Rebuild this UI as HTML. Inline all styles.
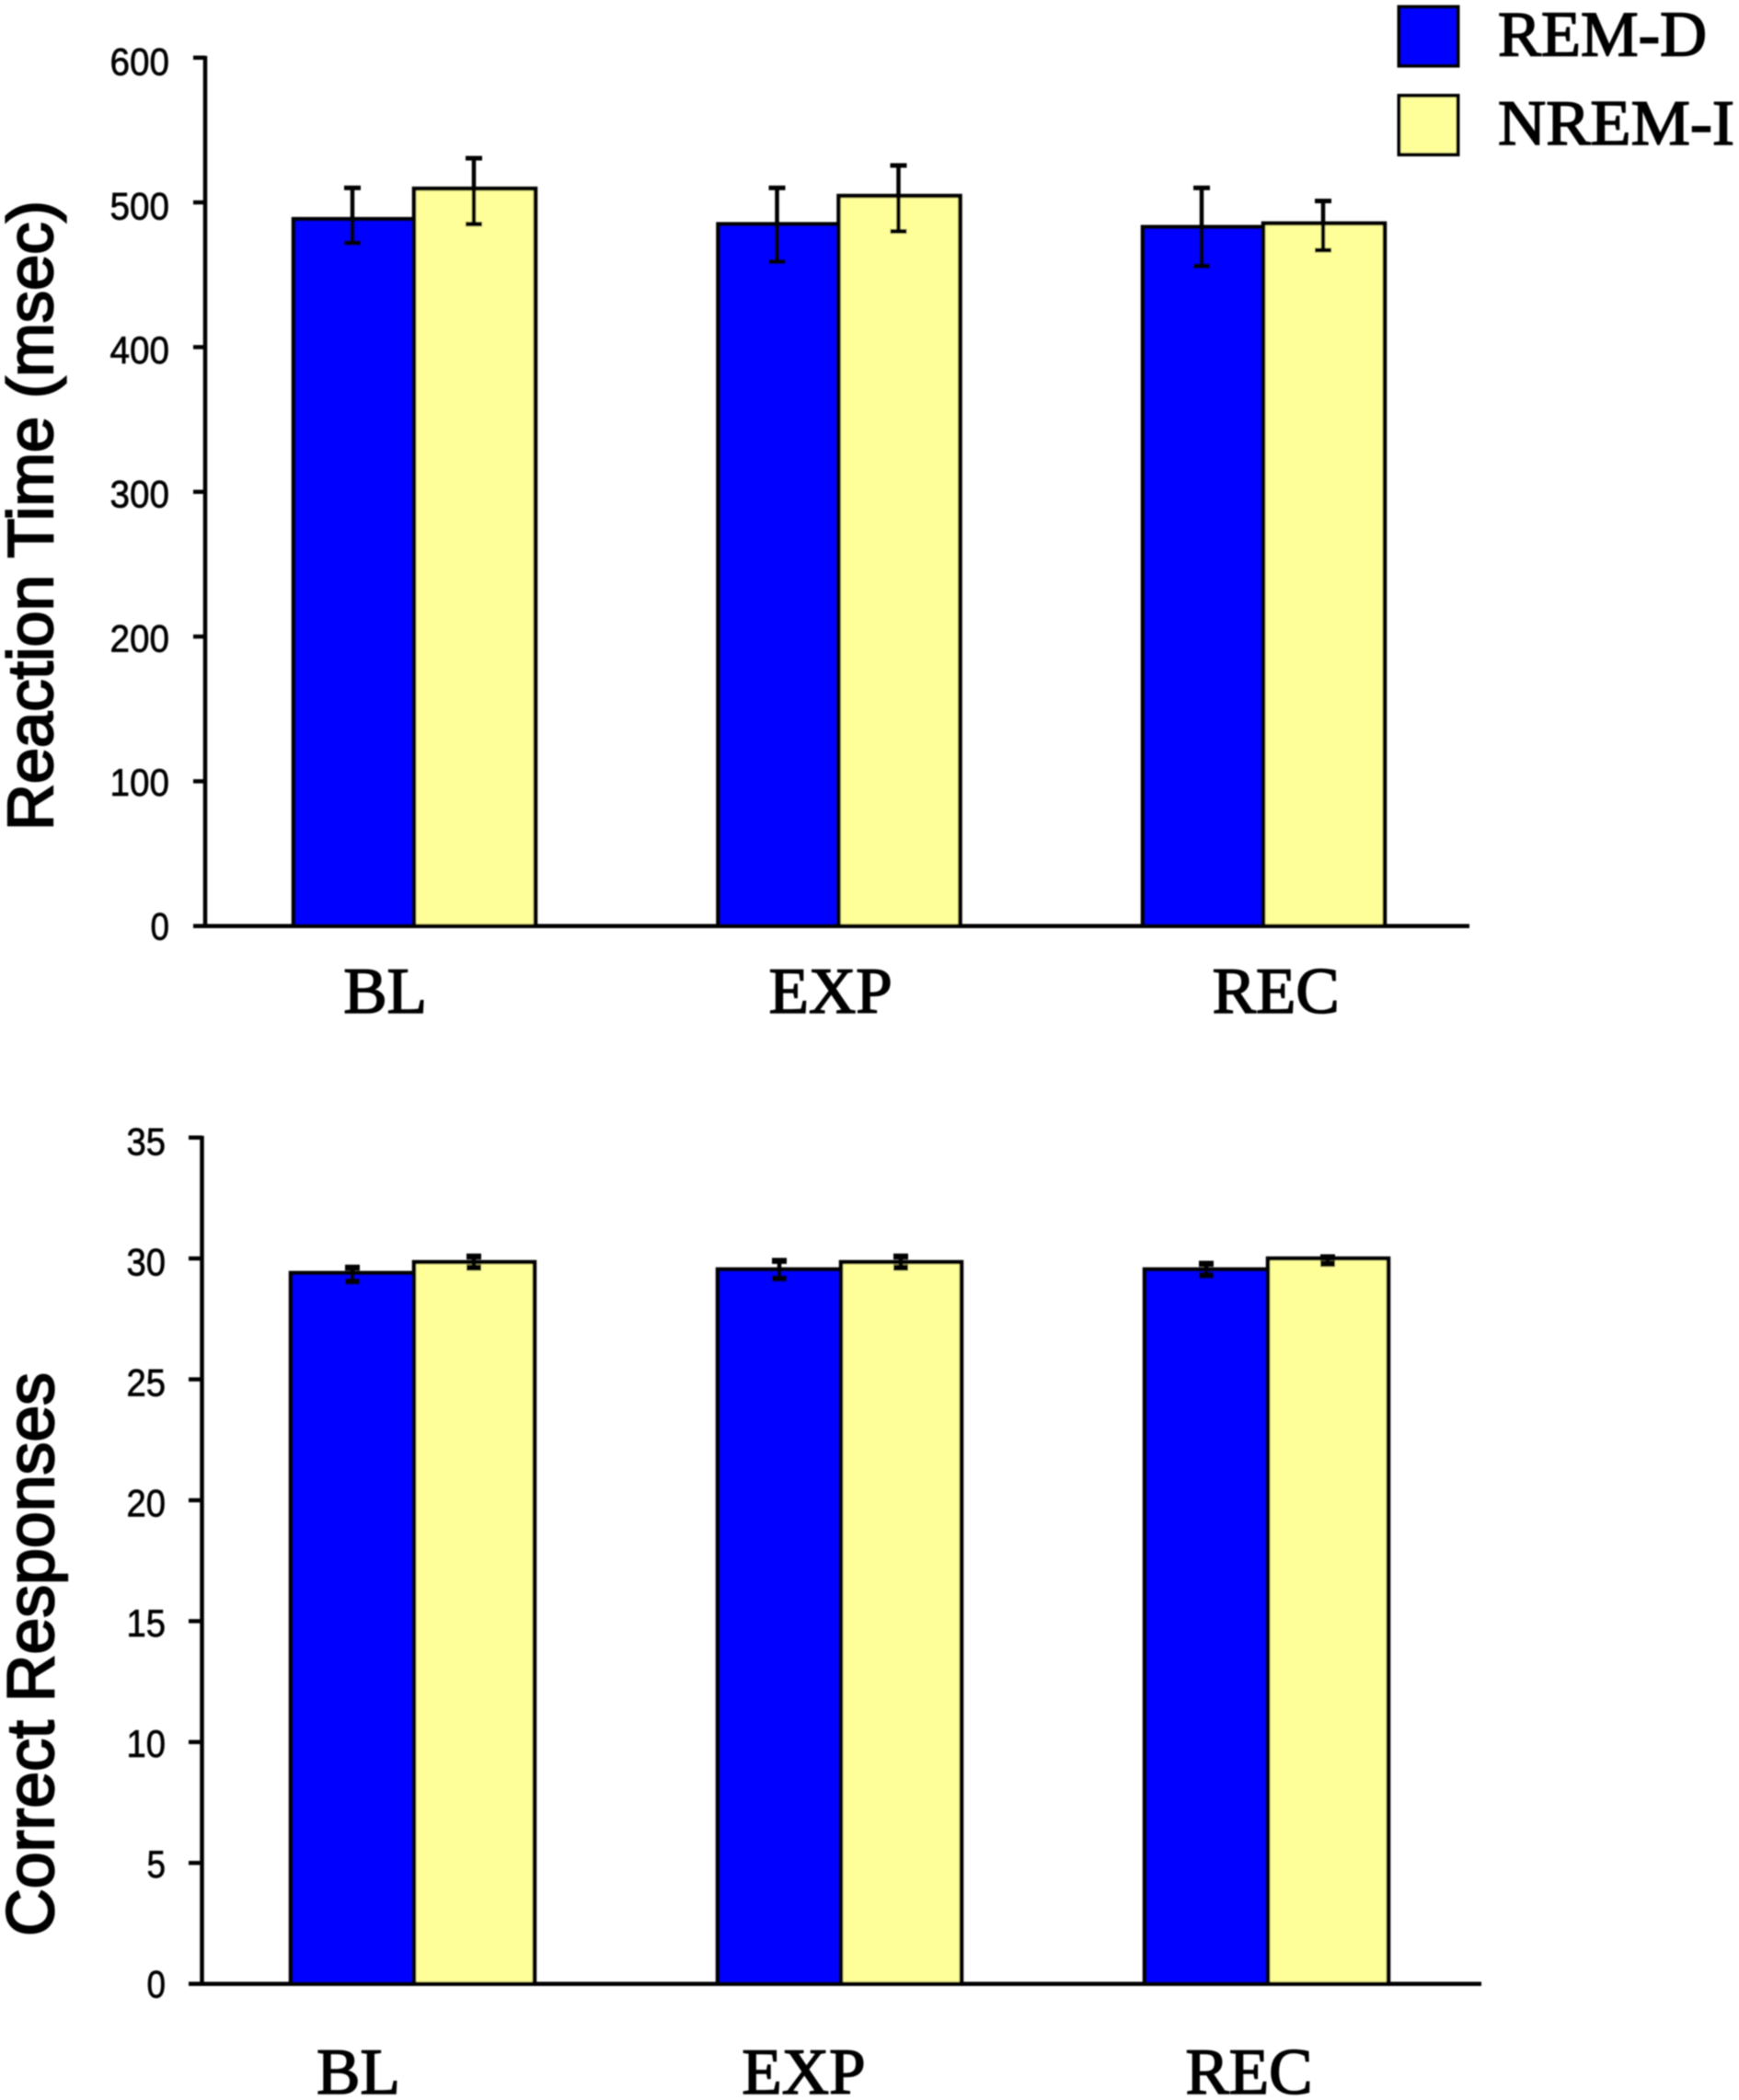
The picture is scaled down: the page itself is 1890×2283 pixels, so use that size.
<!DOCTYPE html>
<html lang="en">
<head>
<meta charset="utf-8">
<title>Reaction Time and Correct Responses</title>
<style>
html,body{margin:0;padding:0;background:#fff;}
body{width:1890px;height:2283px;overflow:hidden;}
svg{display:block;}
.serif{font-family:"Liberation Serif",serif;fill:#000;stroke:#000;stroke-width:1.6;}
.sans{font-family:"Liberation Sans",sans-serif;fill:#000;}
.tick{stroke:#000;stroke-width:0.7;}
</style>
</head>
<body>
<svg id="figure" xmlns="http://www.w3.org/2000/svg" width="1890" height="2283" viewBox="0 0 1890 2283">
  <defs><filter id="soft" x="-2%" y="-2%" width="104%" height="104%"><feGaussianBlur stdDeviation="0.7"/></filter></defs>
  <g id="root" filter="url(#soft)">
    <g>
      <rect x="1520.5" y="7.5" width="64" height="64" fill="#0000ff" stroke="#000" stroke-width="4"/>
      <text class="serif" x="1628" y="60.5" font-size="70" textLength="227" lengthAdjust="spacingAndGlyphs">REM-D</text>
      <rect x="1520.5" y="104" width="64" height="64" fill="#ffff99" stroke="#000" stroke-width="4"/>
      <text class="serif" x="1628" y="157" font-size="70" textLength="257" lengthAdjust="spacingAndGlyphs">NREM-I</text>
    </g>
    <text class="sans" transform="translate(57,903) rotate(-90)" font-size="70" stroke="#000" stroke-width="2.2" textLength="685" lengthAdjust="spacingAndGlyphs">Reaction Time (msec)</text>
    <text class="sans" transform="translate(58,2105) rotate(-90)" font-size="72" stroke="#000" stroke-width="2.2" textLength="613" lengthAdjust="spacingAndGlyphs">Correct Responses</text>
    <g id="top-chart"></g>
    <g id="bottom-chart"></g>
  </g>
</svg>
<script>
// Shared categories
const categories = ["BL", "EXP", "REC"];

// Reaction time chart data
const rtTicks = [0, 100, 200, 300, 400, 500, 600];
const rtRemD = [488.5, 485, 483];
const rtNremI = [509.5, 504.5, 485.5];
const rtRemDHigh = [510, 510, 510];
const rtRemDLow = [472, 459, 456];
const rtNremIHigh = [530.5, 525.5, 501];
const rtNremILow = [485, 480, 467];

// Correct responses chart data
const crTicks = [0, 5, 10, 15, 20, 25, 30, 35];
const crRemD = [29.4, 29.55, 29.55];
const crNremI = [29.85, 29.85, 30];
const crRemDHigh = [29.62, 29.9, 29.78];
const crRemDLow = [29.05, 29.17, 29.3];
const crNremIHigh = [30.08, 30.08, 30.05];
const crNremILow = [29.62, 29.62, 29.78];

const NS = "http://www.w3.org/2000/svg";

function make(parent, tag, attrs) {
  const el = document.createElementNS(NS, tag);
  for (const k in attrs) el.setAttribute(k, attrs[k]);
  parent.appendChild(el);
  return el;
}

function line(parent, name, x1, y1, x2, y2, w) {
  const el = make(parent, "line", { x1: x1, y1: y1, x2: x2, y2: y2, stroke: "#000", "stroke-width": w });
  
  
  return el;
}

function drawChart(parent, layout, ticks, remD, nremI, remDHigh, remDLow, nremIHigh, nremILow) {
  const maxV = ticks[ticks.length - 1];
  const y = function (v) { return layout.y0 - v * (layout.y0 - layout.yTop) / maxV; };
  const sep = function (i) { return layout.sep0 + i * layout.sepStep; };

  categories.forEach(function (cat, i) {
    const s = sep(i);
    [[remD, "#0000ff", s - layout.blueW, layout.blueW, "rem-d"], [nremI, "#ffff99", s, layout.yellowW, "nrem-i"]].forEach(function (d) {
      const bar = make(parent, "rect", {
        x: d[2], y: y(d[0][i]), width: d[3], height: layout.y0 - y(d[0][i]),
        fill: d[1], stroke: "#000", "stroke-width": 4.5
      });
      
      
    });
    [[remDHigh, remDLow, s - 67, "rem-d"], [nremIHigh, nremILow, s + 65, "nrem-i"]].forEach(function (e) {
      const g = make(parent, "g", {});
      
      
      const hi = y(e[0][i]), lo = y(e[1][i]), x = e[2];
      line(g, 'error-stem', x, hi, x, lo, 4.5);
      line(g, 'error-cap-high', x - layout.capHalf, hi, x + layout.capHalf, hi, layout.capW);
      line(g, 'error-cap-low', x - layout.capHalf, lo, x + layout.capHalf, lo, layout.capW);
    });
    const lbl = make(parent, "text", {
      x: layout.label0 + i * layout.labelStep, y: layout.labelY, "text-anchor": "middle",
      "font-size": 71, "class": "serif"
    });
    
    
    lbl.textContent = cat;
  });

  line(parent, 'y-axis-line', layout.axisX, layout.yTop - 2, layout.axisX, layout.y0 + 2, 4.5);
  line(parent, 'x-axis-line', layout.tickX, layout.y0, layout.xEnd, layout.y0, 4.5);

  ticks.forEach(function (t) {
    const ty = y(t);
    line(parent, 'y-tick-' + t, layout.tickX, ty, layout.axisX, ty, 4.5);
    const label = String(t);
    const txt = make(parent, "text", {
      x: layout.tickX - layout.labelGap, y: ty + 15 + 4 * t / maxV, "text-anchor": "end",
      "font-size": 42, "class": "sans tick", textLength: label.length * 20.5 + (label.length - 1) * 1.5,
      lengthAdjust: "spacingAndGlyphs"
    });
    
    
    txt.textContent = label;
  });
}

drawChart(document.getElementById("top-chart"),
  { y0: 1006.7, yTop: 62.7, axisX: 223, tickX: 210, xEnd: 1597, sep0: 450, sepStep: 461.5, blueW: 131, yellowW: 132, capHalf: 9, capW: 5, label0: 418.7, labelStep: 484, labelY: 1101, labelGap: 26 },
  rtTicks, rtRemD, rtNremI, rtRemDHigh, rtRemDLow, rtNremIHigh, rtNremILow);

drawChart(document.getElementById("bottom-chart"),
  { y0: 2156.7, yTop: 1236.7, axisX: 219.5, tickX: 205, xEnd: 1610, sep0: 450, sepStep: 464, blueW: 134, yellowW: 131, capHalf: 8, capW: 6.5, label0: 389.5, labelStep: 484, labelY: 2276, labelGap: 25 },
  crTicks, crRemD, crNremI, crRemDHigh, crRemDLow, crNremIHigh, crNremILow);
</script>
</body>
</html>
